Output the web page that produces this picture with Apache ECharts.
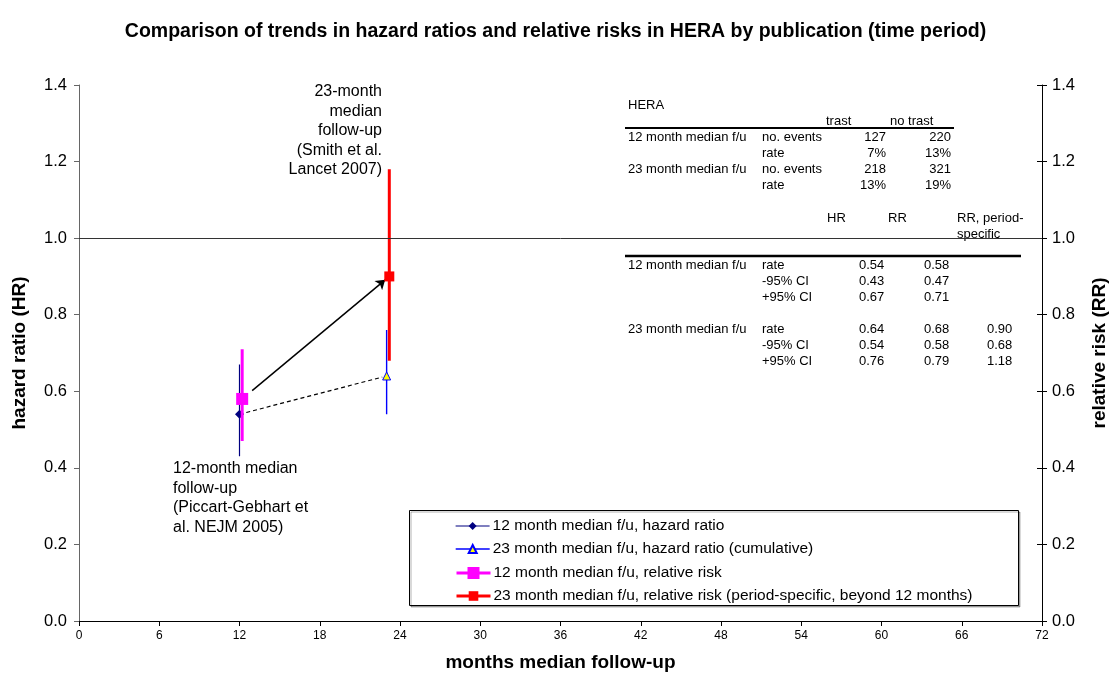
<!DOCTYPE html>
<html>
<head>
<meta charset="utf-8">
<title>HERA hazard ratios and relative risks</title>
<script src="https://cdn.jsdelivr.net/npm/echarts@6/dist/echarts.min.js"></script>
<style>
  html, body { margin: 0; padding: 0; background: #fff; }
  #chart { width: 1111px; height: 675px; }
</style>
</head>
<body>
<div id="chart"></div>
<script>
const FONT = '"Liberation Sans", Arial, Helvetica, sans-serif';

// Hazard ratios, plotted at the median follow-up of each publication
const hrMonths = [12, 23];
const hrEstimate = [0.54, 0.64];
const hrLower = [0.43, 0.54];
const hrUpper = [0.67, 0.76];

// Relative risks, nudged right of the hazard ratios so the bars stay apart
const rrMonths = [12.2, 23.2];
const rrEstimate = [0.58, 0.90];
const rrLower = [0.47, 0.68];
const rrUpper = [0.71, 1.18];

const seriesNames = [
  '12 month median f/u, hazard ratio',
  '23 month median f/u, hazard ratio (cumulative)',
  '12 month median f/u, relative risk',
  '23 month median f/u, relative risk (period-specific, beyond 12 months)'
];

// Summary table: events and rates by arm
const eventHeader = ['trast', 'no trast'];
const eventRows = [
  ['12 month median f/u', 'no. events', '127', '220'],
  ['', 'rate', '7%', '13%'],
  ['23 month median f/u', 'no. events', '218', '321'],
  ['', 'rate', '13%', '19%']
];

// Summary table: ratios with confidence limits
const ratioHeader = ['HR', 'RR', 'RR, period-\nspecific'];
const ratioRows = [
  ['12 month median f/u', 'rate', '0.54', '0.58', ''],
  ['', '-95% CI', '0.43', '0.47', ''],
  ['', '+95% CI', '0.67', '0.71', ''],
  ['23 month median f/u', 'rate', '0.64', '0.68', '0.90'],
  ['', '-95% CI', '0.54', '0.58', '0.68'],
  ['', '+95% CI', '0.76', '0.79', '1.18']
];

const annotation12 = '12-month median\nfollow-up\n(Piccart-Gebhart et\nal. NEJM 2005)';
const annotation23 = '23-month\nmedian\nfollow-up\n(Smith et al.\nLancet 2007)';

// point along the segment from a to b at fraction t
function along(a, b, t) {
  return [a[0] + (b[0] - a[0]) * t, a[1] + (b[1] - a[1]) * t];
}

// vertical confidence bar with the estimate marker in the middle
function ciSeries(name, i, months, est, lo, hi, style) {
  return {
    name: name,
    type: 'line',
    xAxisIndex: 0,
    yAxisIndex: 0,
    symbol: style.symbol,
    symbolSize: style.symbolSize,
    z: style.z,
    lineStyle: { color: style.line, width: style.width },
    itemStyle: { color: style.fill, borderColor: style.border || style.fill, borderWidth: style.borderWidth || 0 },
    emphasis: { disabled: true },
    data: [
      { value: [months[i], lo[i]], symbol: 'none' },
      [months[i], est[i]],
      { value: [months[i], hi[i]], symbol: 'none' }
    ]
  };
}

const styles = [
  { symbol: 'diamond', symbolSize: 9, line: '#000080', fill: '#000080', width: 1.2, z: 3 },
  { symbol: 'triangle', symbolSize: 8, line: '#0000FF', fill: '#FFFF00', border: '#0000FF', borderWidth: 1, width: 1.4, z: 3 },
  { symbol: 'rect', symbolSize: 12, line: '#FF00FF', fill: '#FF00FF', width: 3, z: 4 },
  { symbol: 'rect', symbolSize: 10, line: '#FF0000', fill: '#FF0000', width: 3, z: 4 }
];

const hrStart = [hrMonths[0], hrEstimate[0]];
const hrEnd = [hrMonths[1], hrEstimate[1]];
const rrStart = [rrMonths[0], rrEstimate[0]];
const rrEnd = [rrMonths[1], rrEstimate[1]];

const series = [
  ciSeries(seriesNames[0], 0, hrMonths, hrEstimate, hrLower, hrUpper, styles[0]),
  ciSeries(seriesNames[1], 1, hrMonths, hrEstimate, hrLower, hrUpper, styles[1]),
  ciSeries(seriesNames[2], 0, rrMonths, rrEstimate, rrLower, rrUpper, styles[2]),
  ciSeries(seriesNames[3], 1, rrMonths, rrEstimate, rrLower, rrUpper, styles[3]),
  {
    // hazard ratio trend
    type: 'line',
    symbol: 'none',
    z: 2,
    silent: true,
    lineStyle: { color: '#000', width: 1.2, type: [4, 3] },
    data: [hrStart, along(hrStart, hrEnd, 0.97)],
    markLine: {
      silent: true,
      symbol: 'none',
      label: { show: false },
      lineStyle: { color: '#333', width: 1, type: 'solid' },
      data: [{ yAxis: 1.0 }]
    }
  },
  {
    // relative risk trend
    type: 'lines',
    coordinateSystem: 'cartesian2d',
    z: 2,
    silent: true,
    symbol: ['none', 'arrow'],
    symbolSize: 9,
    lineStyle: { color: '#000', width: 1.5, opacity: 1 },
    data: [{ coords: [along(rrStart, rrEnd, 0.068), along(rrStart, rrEnd, 0.972)] }]
  }
];

// one legend per entry so each keeps its own marker size
const legendRows = [
  { top: 518, h: 10, w: 1.2 },
  { top: 541, h: 10, w: 1.4 },
  { top: 565, h: 15, w: 3 },
  { top: 588, h: 12, w: 3 }
];
const legends = seriesNames.map((name, i) => ({
  data: [name],
  left: 455,
  top: legendRows[i].top,
  itemWidth: 34,
  itemHeight: legendRows[i].h,
  itemGap: 0,
  padding: 0,
  selectedMode: false,
  lineStyle: { width: legendRows[i].w },
  textStyle: { fontFamily: FONT, fontSize: 15.5, color: '#000', padding: [0, 0, 0, -2] },
  z: 10
}));

// table graphics
const tableFont = '13px ' + FONT;
const graphics = [];
function txt(text, x, y, align) {
  graphics.push({
    type: 'text', silent: true, z: 5,
    style: { text: text, x: x, y: y, font: tableFont, fill: '#000', textAlign: align || 'left', textVerticalAlign: 'middle', lineHeight: 16 }
  });
}
function rule(x1, x2, y, w) {
  graphics.push({
    type: 'line', silent: true, z: 5,
    shape: { x1: x1, y1: y, x2: x2, y2: y },
    style: { stroke: '#000', lineWidth: w }
  });
}

txt('HERA', 628, 105);
txt(eventHeader[0], 826, 121.5);
txt(eventHeader[1], 890, 121.5);
rule(625, 954, 128, 2);
const eventY = [137, 153, 169, 185];
eventRows.forEach((r, i) => {
  txt(r[0], 628, eventY[i]);
  txt(r[1], 762, eventY[i]);
  txt(r[2], 886, eventY[i], 'right');
  txt(r[3], 951, eventY[i], 'right');
});
txt(ratioHeader[0], 827, 218);
txt(ratioHeader[1], 888, 218);
graphics.push({
  type: 'text', silent: true, z: 5,
  style: { text: ratioHeader[2], x: 957, y: 210, font: tableFont, fill: '#000', textAlign: 'left', textVerticalAlign: 'top', lineHeight: 16 }
});
rule(625, 1021, 256, 2.5);
const ratioY = [265, 281, 297, 329, 345, 361];
ratioRows.forEach((r, i) => {
  txt(r[0], 628, ratioY[i]);
  txt(r[1], 762, ratioY[i]);
  txt(r[2], 859, ratioY[i]);
  txt(r[3], 924, ratioY[i]);
  if (r[4]) txt(r[4], 987, ratioY[i]);
});

// publication notes
graphics.push({
  type: 'text', silent: true, z: 5,
  style: { text: annotation23, x: 382, y: 82, font: '16px ' + FONT, fill: '#000', textAlign: 'right', textVerticalAlign: 'top', lineHeight: 19.5 }
});
graphics.push({
  type: 'text', silent: true, z: 5,
  style: { text: annotation12, x: 173, y: 459, font: '16px ' + FONT, fill: '#000', textAlign: 'left', textVerticalAlign: 'top', lineHeight: 19.5 }
});

// legend frame
graphics.push({
  type: 'rect', silent: true, z: 1,
  shape: { x: 409.5, y: 510.5, width: 609, height: 95 },
  style: { fill: '#fff', stroke: '#000', lineWidth: 1, shadowColor: 'rgba(0,0,0,0.3)', shadowOffsetX: 1.5, shadowOffsetY: 1.5, shadowBlur: 0 }
});

const yAxisBase = {
  type: 'value', min: 0, max: 1.4, interval: 0.2,
  splitLine: { show: false }
};
const boldName = { fontFamily: FONT, fontSize: 19, fontWeight: 'bold', color: '#000' };

const option = {
  animation: false,
  backgroundColor: '#fff',
  title: {
    text: 'Comparison of trends in hazard ratios and relative risks in HERA by publication (time period)',
    left: 'center',
    top: 17,
    textStyle: Object.assign({}, boldName, { fontSize: 19.5 })
  },
  grid: { left: 79, right: 69, top: 85, bottom: 54, containLabel: false, outerBoundsMode: 'none' },
  legend: legends,
  xAxis: {
    type: 'value', min: 0, max: 72, interval: 6,
    name: 'months median follow-up',
    nameLocation: 'middle',
    nameGap: 32,
    nameTextStyle: boldName,
    axisLine: { onZero: false, lineStyle: { color: '#000', width: 1 } },
    axisTick: { length: 5, lineStyle: { color: '#000' } },
    axisLabel: { fontFamily: FONT, fontSize: 12, color: '#000', margin: 9 },
    splitLine: { show: false }
  },
  yAxis: [
    Object.assign({}, yAxisBase, {
      position: 'left',
      name: 'hazard ratio (HR)',
      nameLocation: 'middle',
      nameRotate: 90,
      nameGap: 50,
      nameTextStyle: boldName,
      axisLine: { show: true, lineStyle: { color: '#666', width: 1 } },
      axisTick: { show: true, length: 5, lineStyle: { color: '#666' } },
      axisLabel: { fontFamily: FONT, fontSize: 16.5, color: '#000', margin: 12, formatter: v => v.toFixed(1) }
    }),
    Object.assign({}, yAxisBase, {
      position: 'right',
      name: 'relative risk (RR)',
      nameLocation: 'middle',
      nameRotate: 90,
      nameGap: 48,
      nameTextStyle: boldName,
      axisLine: { show: true, lineStyle: { color: '#000', width: 1 } },
      axisTick: { show: true, length: 5, lineStyle: { color: '#000' } },
      axisLabel: { fontFamily: FONT, fontSize: 16.5, color: '#000', margin: 10, formatter: v => v.toFixed(1) }
    }),
    Object.assign({}, yAxisBase, {
      position: 'right',
      axisLine: { show: false },
      axisTick: { show: true, inside: true, length: 5, lineStyle: { color: '#000' } },
      axisLabel: { show: false }
    })
  ],
  graphic: { elements: graphics },
  series: series
};

const chart = echarts.init(document.getElementById('chart'), null, { renderer: 'canvas' });
chart.setOption(option);
</script>
</body>
</html>
